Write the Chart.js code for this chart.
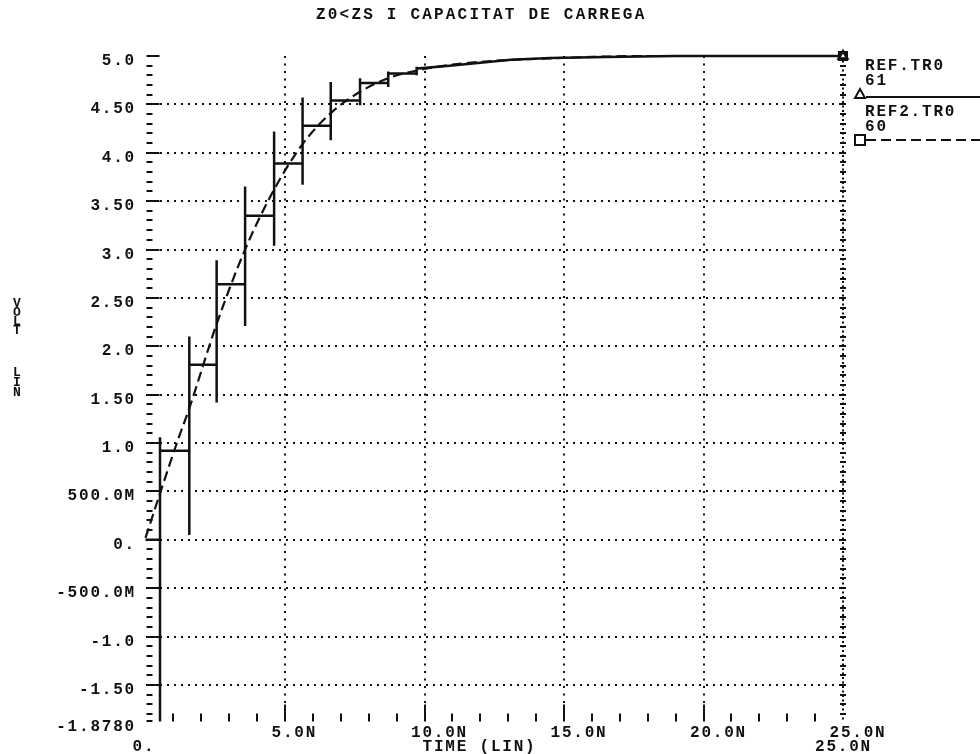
<!DOCTYPE html>
<html>
<head>
<meta charset="utf-8">
<script src="https://cdn.jsdelivr.net/npm/chart.js@4.4.1/dist/chart.umd.min.js"></script>
<style>
  html, body { margin: 0; padding: 0; background: #fff; }
  #wrap { width: 980px; height: 754px; }
</style>
</head>
<body>
<div id="wrap"><canvas id="plot" width="980" height="754"></canvas></div>
<script>
// transient run: time in ns, voltage in V
const titleText = 'Z0<ZS I CAPACITAT DE CARREGA';
const xAxisName = 'TIME (LIN)';
const yAxisName = ['V', 'O', 'L', 'T', '', 'L', 'I', 'N'];
const sweepStart = '0.';
const sweepStop = '25.0N';

const xTicks = [0, 5, 10, 15, 20, 25];
const xTickLabels = ['', '5.0N', '10.0N', '15.0N', '20.0N', '25.0N'];
const yTicks = [-1.878, -1.5, -1, -0.5, 0, 0.5, 1, 1.5, 2, 2.5, 3, 3.5, 4, 4.5, 5];
const yTickLabels = ['-1.8780', '-1.50', '-1.0', '-500.0M', '0.', '500.0M', '1.0', '1.50',
                     '2.0', '2.50', '3.0', '3.50', '4.0', '4.50', '5.0'];

// REF.TR0 : line with reflections, staircase with spikes at each round trip
const refTime = [0,
  0.52, 0.52, 0.52, 0.52,
  1.57, 1.57, 1.57, 1.57,
  2.55, 2.55, 2.55, 2.55,
  3.57, 3.57, 3.57, 3.57,
  4.61, 4.61, 4.61, 4.61,
  5.63, 5.63, 5.63, 5.63,
  6.64, 6.64, 6.64, 6.64,
  7.69, 7.69, 7.69, 7.69,
  8.70, 8.70, 8.70, 8.70,
  9.72, 9.72, 9.72, 9.72,
  10.9, 12.0, 13.1, 14.5, 16.5, 19.0, 25.0];
const refVolt = [0,
  0, -1.878, 1.06, 0.92,
  0.92, 0.05, 2.10, 1.81,
  1.81, 1.42, 2.89, 2.64,
  2.64, 2.21, 3.65, 3.35,
  3.35, 3.04, 4.22, 3.89,
  3.89, 3.67, 4.57, 4.28,
  4.28, 4.13, 4.73, 4.54,
  4.54, 4.49, 4.77, 4.72,
  4.72, 4.68, 4.84, 4.82,
  4.82, 4.80, 4.89, 4.87,
  4.90, 4.93, 4.96, 4.98, 4.99, 5.0, 5.0];

// REF2.TR0 : lumped RC charge
const ref2Time = [0, 0.52, 1.16, 1.57, 2.55, 3.57, 4.61, 5.63, 6.64, 7.69, 8.70, 9.72, 11.0, 12.5, 14.0, 16.0, 18.0, 25.0];
const ref2Volt = [0.02, 0.48, 1.03, 1.36, 2.23, 3.00, 3.62, 4.09, 4.41, 4.63, 4.77, 4.85, 4.91, 4.95, 4.97, 4.99, 5.0, 5.0];

const ink = '#111';
const plotFont = "'Liberation Mono', 'DejaVu Sans Mono', monospace";

function toPoints(xs, ys) {
  return xs.map((x, i) => ({ x: x, y: ys[i] }));
}

function lastOnly(size) {
  return ctx => ctx.dataIndex === ctx.dataset.data.length - 1 ? size : 0;
}

// tick marks drawn on the inside of the frame, HP plotter style
const plotterTicks = {
  id: 'plotterTicks',
  beforeInit(chart) { chart.ctx.letterSpacing = '1.8px'; },
  beforeDraw(chart) { chart.ctx.letterSpacing = '1.8px'; },
  beforeDatasetsDraw(chart) {
    const { ctx, chartArea: a, scales: { x, y } } = chart;
    ctx.save();
    ctx.strokeStyle = ink;
    ctx.lineWidth = 2;
    ctx.beginPath();
    // y minor every 0.1 V, majors at labelled values
    for (let k = -18; k <= 50; k++) {
      const py = Math.round(y.getPixelForValue(k / 10));
      const major = k % 5 === 0;
      ctx.moveTo(a.left + 1, py);
      ctx.lineTo(a.left + (major ? 14 : 7), py);
      // short marks across the right-hand edge
      ctx.moveTo(a.right - 3, py);
      ctx.lineTo(a.right + 3, py);
    }
    const pb = Math.round(y.getPixelForValue(y.min));
    ctx.moveTo(a.left + 1, pb - 1);
    ctx.lineTo(a.left + 7, pb - 1);
    // x minor every 1 ns
    for (let t = 1; t < 25; t++) {
      const px = Math.round(x.getPixelForValue(t));
      const major = t % 5 === 0;
      ctx.moveTo(px, a.bottom);
      ctx.lineTo(px, a.bottom - (major ? 17 : 8));
    }
    ctx.stroke();
    ctx.restore();
  },
  afterDraw(chart) {
    const { ctx, scales: { x } } = chart;
    ctx.save();
    ctx.fillStyle = ink;
    ctx.strokeStyle = ink;
    ctx.font = 'bold 16px ' + plotFont;
    ctx.textBaseline = 'middle';
    ctx.textAlign = 'left';
    ctx.letterSpacing = '2.2px';
    ctx.fillText(titleText, 316, 15);

    // second row under the time axis
    ctx.letterSpacing = '1.8px';
    ctx.fillText(sweepStart, x.getPixelForValue(0) - 13, 747);
    ctx.fillText(xAxisName, x.getPixelForValue(10) - 2, 747);
    ctx.fillText(sweepStop, x.getPixelForValue(25) - 28, 747);

    // stacked axis name
    ctx.font = 'bold 13px ' + plotFont;
    ctx.letterSpacing = '0px';
    ctx.textAlign = 'center';
    const rowY = [304, 313, 322, 331, 0, 373, 383, 393];
    yAxisName.forEach((ch, i) => { if (ch) ctx.fillText(ch, 17, rowY[i]); });

    // trace key at the right
    ctx.letterSpacing = '1.8px';
    ctx.font = 'bold 16px ' + plotFont;
    ctx.textAlign = 'left';
    const keyTop = [66, 112];
    chart.data.datasets.forEach((ds, i) => {
      const ty = keyTop[i];
      ctx.fillText(ds.label, 865, ty);
      ctx.fillText(ds.node, 865, ty + 15);
      const my = ty + 28;
      const tri = ds.pointStyle === 'triangle';
      ctx.lineWidth = 2;
      ctx.setLineDash([]);
      ctx.beginPath();
      if (tri) {
        ctx.moveTo(855, my + 4); ctx.lineTo(865, my + 4); ctx.lineTo(860, my - 5); ctx.closePath();
      } else {
        ctx.rect(855, my - 5, 10, 10);
      }
      ctx.stroke();
      ctx.setLineDash(ds.borderDash || []);
      ctx.beginPath();
      ctx.moveTo(866, tri ? my + 3 : my);
      ctx.lineTo(980, tri ? my + 3 : my);
      ctx.stroke();
    });
    ctx.restore();
  }
};

new Chart(document.getElementById('plot'), {
  type: 'line',
  data: {
    datasets: [
      {
        label: 'REF.TR0',
        node: '61',
        data: toPoints(refTime, refVolt),
        borderColor: ink,
        borderWidth: 2.5,
        tension: 0,
        pointStyle: 'triangle',
        pointRadius: lastOnly(5),
        pointBackgroundColor: '#fff',
        pointBorderColor: ink,
        pointBorderWidth: 2.5,
        clip: false
      },
      {
        label: 'REF2.TR0',
        node: '60',
        data: toPoints(ref2Time, ref2Volt),
        borderColor: ink,
        borderWidth: 2.2,
        borderDash: [10, 5],
        cubicInterpolationMode: 'monotone',
        pointStyle: 'rect',
        pointRadius: lastOnly(5),
        pointBackgroundColor: '#fff',
        pointBorderColor: ink,
        pointBorderWidth: 3,
        clip: false
      }
    ]
  },
  options: {
    responsive: false,
    animation: false,
    devicePixelRatio: 1,
    layout: { padding: { top: 56, right: 137, bottom: 0, left: 0 } },
    plugins: {
      legend: { display: false },
      title: { display: false },
      tooltip: { enabled: false }
    },
    scales: {
      x: {
        type: 'linear',
        min: 0,
        max: 25,
        afterFit: s => { s.height = 32.5; },
        afterBuildTicks: s => { s.ticks = xTicks.map(v => ({ value: v })); },
        border: {
          display: false,
          dash: c => (c.tick && c.tick.value === 25) ? [2, 2.5] : [2, 5.5]
        },
        grid: {
          drawTicks: false,
          lineWidth: 2,
          color: c => (c.tick && c.tick.value === 0) ? 'rgba(0,0,0,0)' : ink
        },
        ticks: {
          autoSkip: false,
          maxRotation: 0,
          align: 'start',
          labelOffset: -13.5,
          padding: 2,
          color: ink,
          font: { family: plotFont, weight: 'bold', size: 16 },
          callback: (v, i) => xTickLabels[i]
        }
      },
      y: {
        type: 'linear',
        min: -1.878,
        max: 5.0,
        afterFit: s => { s.width = 145.5; },
        afterBuildTicks: s => { s.ticks = yTicks.map(v => ({ value: v })); },
        border: { display: false, dash: [2, 5] },
        grid: {
          drawTicks: false,
          lineWidth: 2,
          color: c => (c.tick && (c.tick.value === 5 || c.tick.value === -1.878)) ? 'rgba(0,0,0,0)' : ink
        },
        ticks: {
          autoSkip: false,
          padding: 9.5,
          labelOffset: 5,
          color: ink,
          font: { family: plotFont, weight: 'bold', size: 16 },
          callback: (v, i) => yTickLabels[i]
        }
      }
    }
  },
  plugins: [plotterTicks]
});
</script>
</body>
</html>
